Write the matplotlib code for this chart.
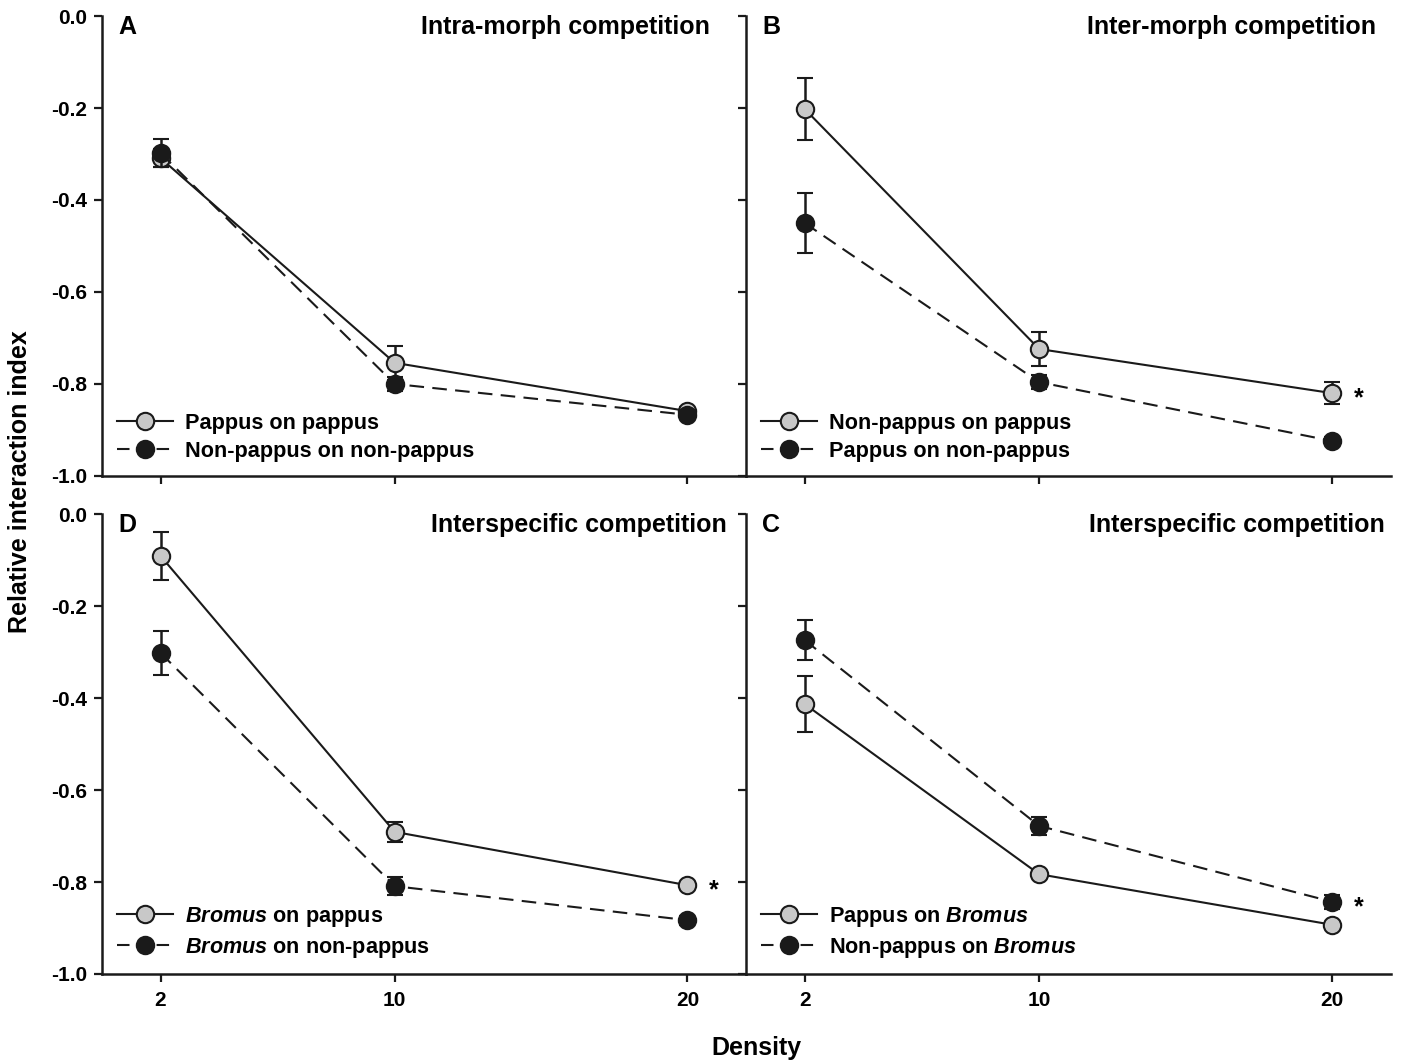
import matplotlib
matplotlib.use("Agg")
import matplotlib.pyplot as plt
from matplotlib.lines import Line2D
from matplotlib.ticker import FormatStrFormatter

plt.rcParams['font.family'] = ['Liberation Sans', 'DejaVu Sans']
plt.rcParams['font.weight'] = 'bold'
plt.rcParams['mathtext.fontset'] = 'custom'
plt.rcParams['mathtext.it'] = 'Liberation Sans:italic:bold'
plt.rcParams['mathtext.rm'] = 'Liberation Sans:bold'

density = [2, 10, 20]

# panel A - intra-morph
a_gray = [-0.309, -0.754, -0.859]
a_gray_err = [0.02, 0.037, 0.008]
a_black = [-0.298, -0.800, -0.867]
a_black_err = [0.03, 0.016, 0.01]

# panel B - inter-morph
b_gray = [-0.202, -0.724, -0.820]
b_gray_err = [0.068, 0.037, 0.024]
b_black = [-0.450, -0.796, -0.924]
b_black_err = [0.065, 0.016, 0.008]

# panel D - interspecific (Bromus on morphs)
d_gray = [-0.091, -0.691, -0.807]
d_gray_err = [0.052, 0.022, 0.005]
d_black = [-0.302, -0.809, -0.883]
d_black_err = [0.047, 0.02, 0.01]

# panel C - interspecific (morphs on Bromus)
c_gray = [-0.413, -0.783, -0.893]
c_gray_err = [0.061, 0.005, 0.005]
c_black = [-0.274, -0.678, -0.843]
c_black_err = [0.044, 0.02, 0.015]

panels = [
    # letter, title, gray label, black label, data, significant series at 20
    ('A', 'Intra-morph competition', 'Pappus on pappus', 'Non-pappus on non-pappus',
     a_gray, a_gray_err, a_black, a_black_err, None),
    ('B', 'Inter-morph competition', 'Non-pappus on pappus', 'Pappus on non-pappus',
     b_gray, b_gray_err, b_black, b_black_err, 'gray'),
    ('D', 'Interspecific competition', r'$\mathit{Bromus}$ on pappus', r'$\mathit{Bromus}$ on non-pappus',
     d_gray, d_gray_err, d_black, d_black_err, 'gray'),
    ('C', 'Interspecific competition', r'Pappus on $\mathit{Bromus}$', r'Non-pappus on $\mathit{Bromus}$',
     c_gray, c_gray_err, c_black, c_black_err, 'black'),
]
title_x = [0.944, 0.977, 0.970, 0.991]

fig = plt.figure(figsize=(14.03, 10.61), dpi=100)
boxes = [[0.0727, 0.5514, 0.459, 0.4335], [0.5317, 0.5514, 0.4597, 0.4335],
         [0.0727, 0.0820, 0.459, 0.4335], [0.5317, 0.0820, 0.4597, 0.4335]]

K = '#1a1a1a'
GR = '#c8c8c8'
DASH = (0, (7, 4))
for i, (letter, title, lg, lb, g, ge, b, be, sig) in enumerate(panels):
    ax = fig.add_axes(boxes[i])
    ax.errorbar(density, g, yerr=ge, color=K, lw=1.5, ls='-', marker='o', ms=12.5,
                mfc=GR, mec=K, mew=1.5, ecolor=K, elinewidth=1.8,
                capsize=5.5, capthick=1.8, zorder=2)
    ax.errorbar(density, b, yerr=be, color=K, lw=1.5, ls=DASH, marker='o', ms=12.5,
                mfc=K, mec=K, mew=1.5, ecolor=K, elinewidth=1.8,
                capsize=5.5, capthick=1.8, zorder=3)
    if sig is not None:
        yv = g[-1] if sig == 'gray' else b[-1]
        ax.text(density[-1] + 0.9, yv - 0.012, '*', fontsize=18, fontweight='bold',
                ha='center', va='center')
    ax.set_xlim(0, 22)
    ax.set_ylim(-1.0, 0.0)
    ax.set_xticks(density)
    ax.set_yticks([0.0, -0.2, -0.4, -0.6, -0.8, -1.0])
    ax.yaxis.set_major_formatter(FormatStrFormatter('%.1f'))
    for s in ['top', 'right']:
        ax.spines[s].set_visible(False)
    for s in ['left', 'bottom']:
        ax.spines[s].set_linewidth(1.8)
        ax.spines[s].set_color(K)
    ax.tick_params(direction='out', length=5.5, width=1.6, labelsize=15, color=K)
    ax.tick_params(axis='x', pad=7)
    ax.tick_params(axis='y', pad=5)
    if i < 2:
        ax.tick_params(labelbottom=False)
    if i % 2 == 1:
        ax.tick_params(labelleft=False)
    for t in ax.get_xticklabels() + ax.get_yticklabels():
        t.set_fontweight('bold')
    ax.text(0.025, 1.002, letter, transform=ax.transAxes, fontsize=18, fontweight='bold',
            ha='left', va='top')
    ax.text(title_x[i], 1.002, title, transform=ax.transAxes, fontsize=18, fontweight='bold',
            ha='right', va='top')
    handles = [Line2D([], [], color=K, lw=1.5, ls='-', marker='o', ms=12.5, mfc=GR, mec=K, mew=1.5),
               Line2D([], [], color=K, lw=1.5, ls=(0, (6, 3.5)), marker='o', ms=12.5, mfc=K, mec=K, mew=1.5)]
    leg = ax.legend(handles, [lg, lb], loc='lower left', bbox_to_anchor=(0.0, -0.002), frameon=False,
                    fontsize=15.6, handlelength=2.6, handletextpad=0.55, labelspacing=0.33,
                    borderaxespad=0.3)
    for t in leg.get_texts():
        t.set_fontweight('bold')

fig.text(0.0145, 0.5457, 'Relative interaction index', rotation=90, fontsize=18,
         fontweight='bold', ha='center', va='center')
fig.text(0.5395, 0.012, 'Density', fontsize=18, fontweight='bold', ha='center', va='center')

fig.savefig('out.png', dpi=100)
